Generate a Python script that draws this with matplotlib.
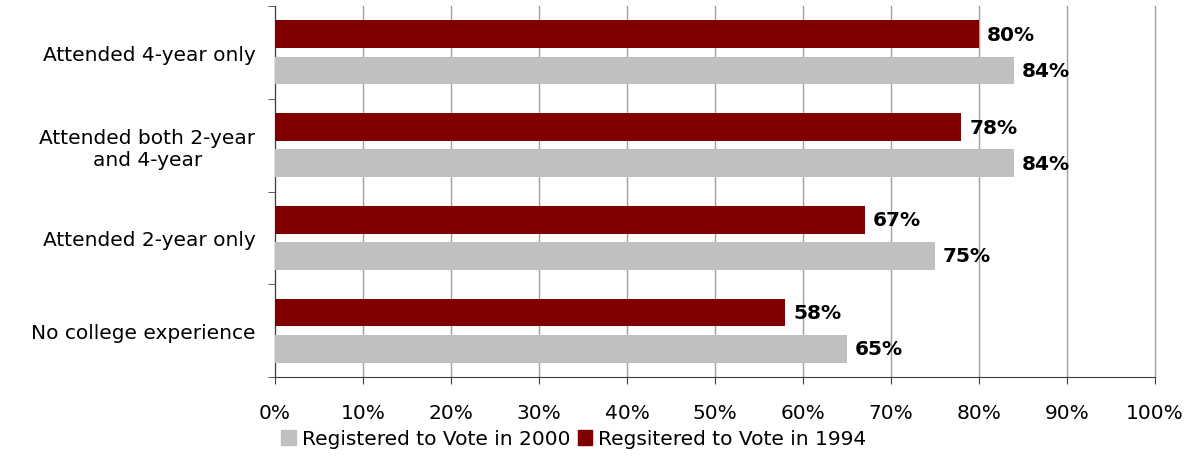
import numpy as np
import matplotlib.pyplot as plt
from matplotlib.patches import Patch
from matplotlib.ticker import FixedLocator

# datos del grafico (de arriba hacia abajo)
categorias = ["Attended 4-year only", "Attended both 2-year\nand 4-year",
              "Attended 2-year only", "No college experience"]
voto_1994 = [80, 78, 67, 58]
voto_2000 = [84, 84, 75, 65]
serie_1994 = "Regsitered to Vote in 1994"
serie_2000 = "Registered to Vote in 2000"

rojo = "#800000"
gris = "#C0C0C0"

fig = plt.figure(figsize=(12.01, 4.6), dpi=100)
ax = fig.add_axes([275 / 1201, 1 - 378 / 460, 880 / 1201, 371 / 460])

y = np.arange(len(categorias))[::-1]
alto = 0.30
ax.barh(y + 0.195, voto_1994, height=alto, color=rojo, zorder=3)
ax.barh(y - 0.195, voto_2000, height=alto, color=gris, zorder=3)

for yy, v in zip(y, voto_1994):
    ax.text(v + 0.9, yy + 0.195, f"{v}%", va="center", ha="left",
            fontsize=14.5, fontweight="bold", color="black")
for yy, v in zip(y, voto_2000):
    ax.text(v + 0.9, yy - 0.195, f"{v}%", va="center", ha="left",
            fontsize=14.5, fontweight="bold", color="black")

ax.set_xlim(0, 100)
ax.set_ylim(-0.5, len(categorias) - 0.5)
ax.set_xticks(np.arange(0, 101, 10))
ax.set_xticklabels([f"{t}%" for t in range(0, 101, 10)], fontsize=14.5)
ax.tick_params(axis="x", length=5, pad=14, color="#404040")

ax.set_yticks(y)
ax.set_yticklabels(categorias, fontsize=14.5, multialignment="center")
ax.tick_params(axis="y", length=0, pad=14)
ax.yaxis.set_minor_locator(FixedLocator(np.arange(-0.5, len(categorias), 1)))
ax.tick_params(axis="y", which="minor", length=5, color="#404040")

ax.grid(axis="x", color="#A0A0A0", linewidth=1, zorder=0)
for gl in ax.get_xgridlines():
    gl.set_clip_on(False)
for lado in ["top", "right"]:
    ax.spines[lado].set_visible(False)
ax.spines["left"].set_color("#404040")
ax.spines["bottom"].set_color("#404040")

manijas = [Patch(color=gris, label=serie_2000), Patch(color=rojo, label=serie_1994)]
fig.legend(handles=manijas, loc="center", bbox_to_anchor=(574 / 1201, 1 - 440 / 460),
           ncol=2, frameon=False, fontsize=14.5, handlelength=0.7, handleheight=0.7,
           handletextpad=0.3, columnspacing=0.4)

fig.savefig("out.png", dpi=100)
